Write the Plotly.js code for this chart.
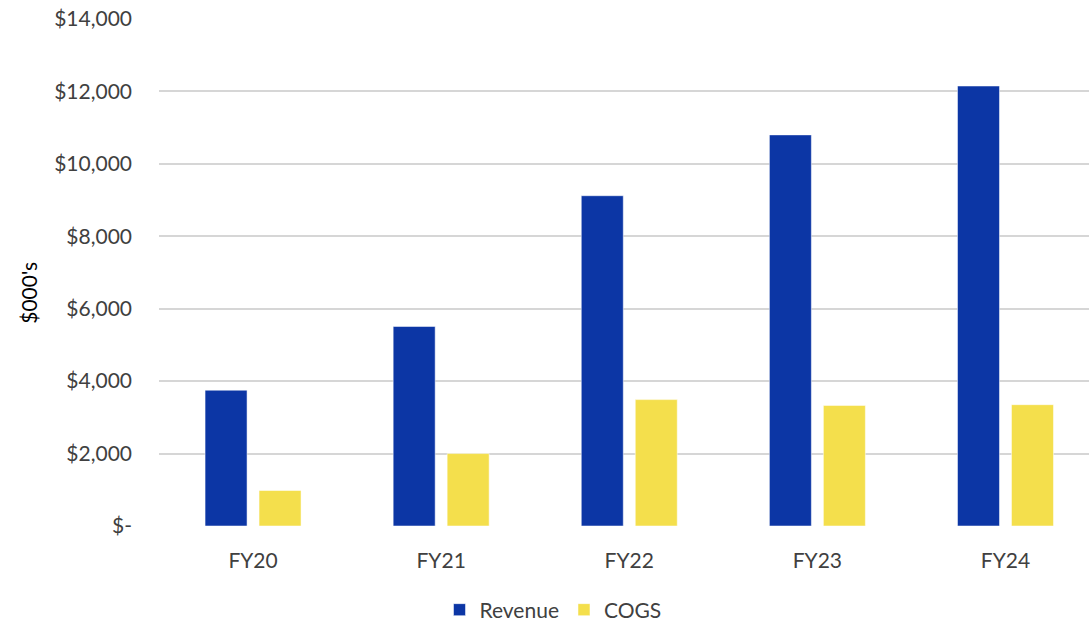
<!DOCTYPE html>
<html>
<head>
<meta charset="utf-8">
<script src="https://cdn.plot.ly/plotly-3.0.1.min.js"></script>
<style>
html,body{margin:0;padding:0;background:#fff;}
#chart{width:1089px;height:621px;}
</style>
</head>
<body>
<div id="chart"></div>
<script>
const categories = ["FY20", "FY21", "FY22", "FY23", "FY24"];
const revenue = [3750, 5510, 9120, 10800, 12150];
const cogs = [980, 2000, 3490, 3330, 3350];
const yTickVals = [0, 2000, 4000, 6000, 8000, 10000, 12000, 14000];
const yTickText = ["$-", "$2,000", "$4,000", "$6,000", "$8,000", "$10,000", "$12,000", "$14,000"];
const yAxisTitle = "$000's";

const textColor = "#404040";
const fontFamily = "Lato, 'Open Sans', sans-serif";

const traces = [
  {
    type: "bar", name: "Revenue", x: categories, y: revenue,
    marker: {color: "#0c36a5", line: {color: "rgba(255,255,255,0.5)", width: 1}},
    hoverinfo: "x+y"
  },
  {
    type: "bar", name: "COGS", x: categories, y: cogs,
    marker: {color: "#f4df4c", line: {color: "rgba(255,255,255,0.5)", width: 1}},
    hoverinfo: "x+y"
  }
];

const layout = {
  width: 1089, height: 621,
  paper_bgcolor: "#ffffff", plot_bgcolor: "#ffffff",
  margin: {l: 159, r: 0, t: 19, b: 95, pad: 0, autoexpand: false},
  font: {family: fontFamily, size: 21, color: textColor},
  barmode: "group",
  bargap: 0.426,
  bargroupgap: 0.222,
  showlegend: true,
  legend: {
    orientation: "h", xref: "container", yref: "container",
    x: 553/1089, xanchor: "center", y: 11/621, yanchor: "middle",
    font: {family: fontFamily, size: 21, color: textColor},
    itemwidth: 30, traceorder: "normal"
  },
  xaxis: {
    type: "category", range: [-0.5, 4.444], fixedrange: true, automargin: false,
    showgrid: false, zeroline: false, showline: false, ticks: "",
    ticklabelstandoff: 20,
    tickfont: {family: fontFamily, size: 21, color: textColor}
  },
  yaxis: {
    range: [0, 14000], fixedrange: true, automargin: false,
    tickvals: yTickVals, ticktext: yTickText,
    showgrid: true, gridcolor: "#d6d6d6", gridwidth: 2,
    zeroline: false, showline: false, ticks: "",
    ticklabelstandoff: 26,
    tickfont: {family: fontFamily, size: 21, color: textColor}
  },
  annotations: [{
    text: yAxisTitle, textangle: -90, showarrow: false,
    xref: "paper", yref: "paper", x: -130/930, y: 0.46,
    xanchor: "center", yanchor: "middle",
    font: {family: fontFamily, size: 21, color: "#000000"}
  }]
};

Plotly.newPlot("chart", traces, layout, {displayModeBar: false, staticPlot: true});
</script>
</body>
</html>
